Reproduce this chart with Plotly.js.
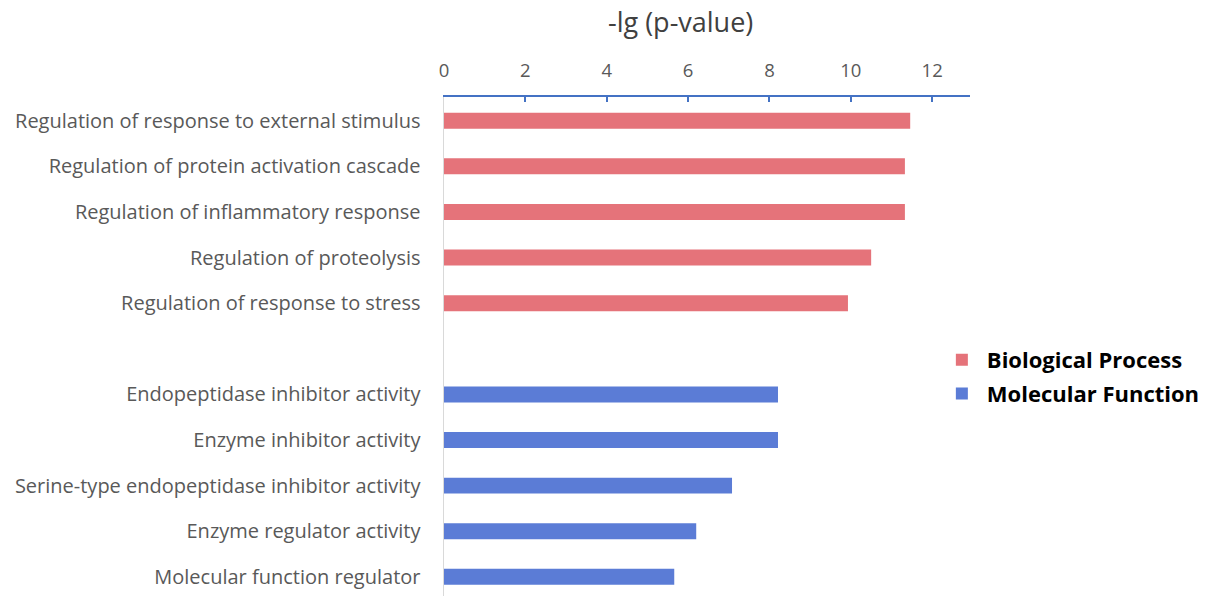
<!DOCTYPE html>
<html>
<head>
<meta charset="utf-8">
<script src="https://cdn.plot.ly/plotly-3.0.1.min.js"></script>
<style>html,body{margin:0;padding:0;background:#fff;}#chart{width:1222px;height:596px;}</style>
</head>
<body>
<div id="chart"></div>
<script>
const bioTerms = [
  "Regulation of response to external stimulus",
  "Regulation of protein activation cascade",
  "Regulation of inflammatory response",
  "Regulation of proteolysis",
  "Regulation of response to stress"
];
const bioValues = [11.46, 11.33, 11.33, 10.5, 9.93];
const mfTerms = [
  "Endopeptidase inhibitor activity",
  "Enzyme inhibitor activity",
  "Serine-type endopeptidase inhibitor activity",
  "Enzyme regulator activity",
  "Molecular function regulator"
];
const mfValues = [8.21, 8.21, 7.08, 6.2, 5.66];
const xTicks = [0, 2, 4, 6, 8, 10, 12];

// row positions: bio rows, one empty row, then MF rows
const bioPos = bioTerms.map((_, i) => i);
const mfPos = mfTerms.map((_, i) => bioTerms.length + 1 + i);

const font = "'Open Sans', sans-serif";

const traces = [
  {type: "bar", orientation: "h", name: "<b>Biological Process</b>", x: bioValues, y: bioPos,
   width: 0.35, marker: {color: "#E5737A"}, legendgroup: "a", hoverinfo: "x"},
  {type: "bar", orientation: "h", name: "<b>Molecular Function</b>", x: mfValues, y: mfPos,
   width: 0.35, marker: {color: "#5B7CD6"}, legendgroup: "b", hoverinfo: "x"}
];

const layout = {
  width: 1222, height: 596,
  margin: {l: 444, r: 252, t: 97, b: 0, pad: 0, autoexpand: false},
  paper_bgcolor: "#fff", plot_bgcolor: "#fff",
  barmode: "overlay",
  font: {family: font, color: "#595959", size: 17},
  title: {text: "-lg (p-value)", xref: "container", x: 0.557, xanchor: "center",
          yref: "container", y: 1 - 23/596, yanchor: "middle",
          font: {family: font, size: 27, color: "#404040"}},
  xaxis: {side: "top", range: [0, 12.93], tickvals: xTicks, ticktext: xTicks.map(String),
          showgrid: false, zeroline: false, showline: true, linecolor: "#4472C4", linewidth: 2,
          ticks: "inside", ticklen: 5, tickwidth: 2, tickcolor: "#4472C4",
          ticklabelstandoff: 11,
          tickfont: {family: font, size: 18.5, color: "#595959"}, fixedrange: true},
  yaxis: {range: [10.42, -0.52], tickvals: bioPos.concat(mfPos), ticktext: bioTerms.concat(mfTerms),
          showgrid: false, zeroline: false, showline: true, linecolor: "#D9D9D9", linewidth: 1.5,
          ticks: "", ticklabelstandoff: 18,
          tickfont: {family: font, size: 20, color: "#595959"}, fixedrange: true},
  showlegend: true,
  legend: {x: 0.937, xanchor: "left", y: 0.515, yanchor: "top", traceorder: "grouped",
           tracegroupgap: 2, bgcolor: "rgba(0,0,0,0)", itemwidth: 40,
           font: {family: font, size: 22, color: "#000"}},
};

Plotly.newPlot("chart", traces, layout, {displayModeBar: false, staticPlot: true});
</script>
</body>
</html>
